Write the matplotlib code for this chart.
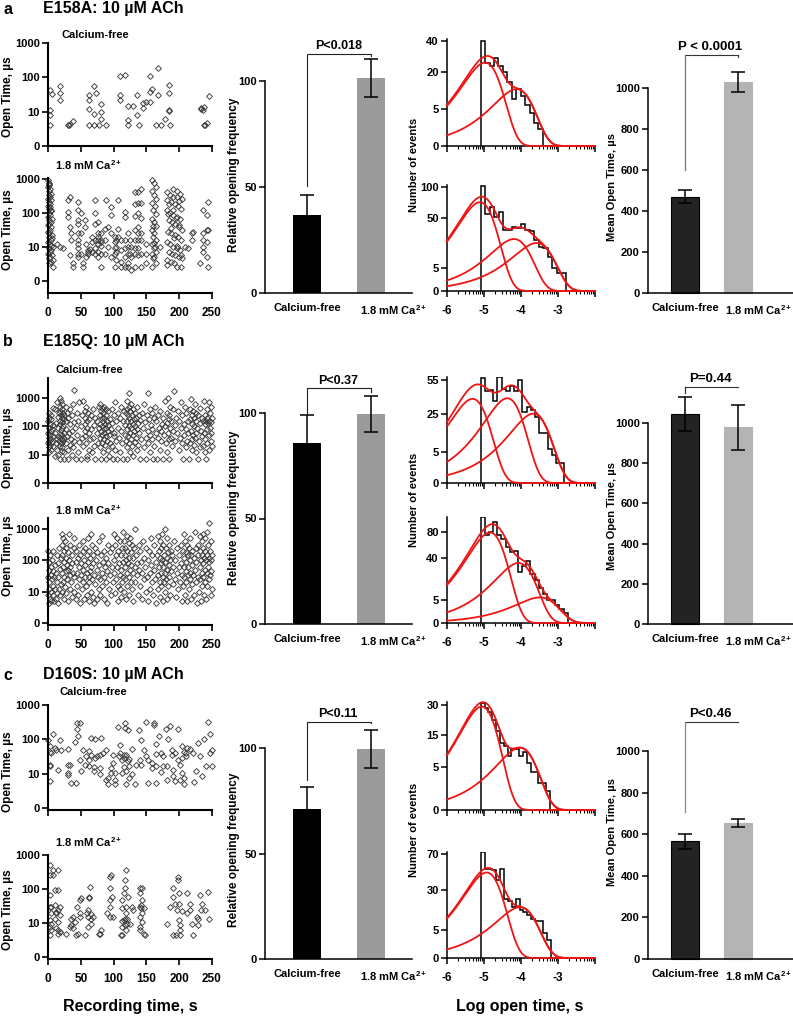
import numpy as np
import matplotlib
matplotlib.use('Agg')
import matplotlib.pyplot as plt
from matplotlib import font_manager
import matplotlib.transforms as mtransforms

# ======================= DATA =======================
row_letters = ['a', 'b', 'c']
row_titles = ['E158A: 10 µM ACh', 'E185Q: 10 µM ACh', 'D160S: 10 µM ACh']
conditions = ['Calcium-free', '1.8 mM Ca$^{2+}$']
scatter_xticks = [0, 50, 100, 150, 200, 250]
scatter_ytick_labels = ['0', '10', '100', '1000']

# scatter: [recording time (s), open time (µs)]
scat_a_free = [[2.5,42],[2.5,11],[2.5,7.8],[2.5,4],[6,32],[19,56],[19,34],[19,22.5],[30,4],[32,4.2],[34,4.4],[38,5.2],
 [62.6,30],[62.6,22.5],[62.6,12.2],[62.6,4],[69.7,56],[69.7,8.7],[69.7,4],[73.8,34],[77.9,4],[81.4,17],[81.4,9.8],[81.4,6.2],
 [89,4],[110,110],[110,31.6],[110,22.5],[117,117],[122,14.3],[122,5.6],[122,4],[129,14.3],[135,31.6],[135,7.8],[139,4],
 [145,13],[145,18],[150,19.3],[155,38],[155,18.8],[156,110],[159,47],[164,4],[167,184],[167,30],[173,4],[178,6.2],
 [184,60],[184,35.5],[184,11.5],[184,10.4],[186,4],[233,13],[233,12.2],[236,11],[238,13.7],[238,4.2],[240,4],[242,4.6],[245,29]]

scat_a_ca = [[0,890],[1,745],[2,637],[0.5,570],[3,509],[1.5,435],[4,364],[2.5,290],[0,260],[5,232],[1,208],[3.5,178],
 [0.5,155],[2,133],[4.5,119],[1,99],[3,85],[0,76],[6,68],[2,60],[4,54],[1,46],[5,39],[3,31],[0.5,28],[2,25],[6,22],
 [1.5,20],[4,16],[0,14],[3,12.6],[7,10],[1,9],[5,8],[2.5,7.2],[0,6.4],[6,5.8],[3,5.1],[1,4.6],[8,4.1],[4,3.7],[2,3.3],
 [7,2.6],[1,330],[3,150],[2,700],[5,110],[0,45],[6,18],[4,11],
 [13.7,12.6],[17.8,10],[22.9,9],[30.5,232],[30.5,105],[30.5,76],[33,290],[33,39],[33,5.8],[35.6,25],[35.6,16],[38.2,3.3],
 [38.2,2.6],[45.8,208],[45.8,119],[45.8,60],[45.8,46],[45.8,25],[45.8,16],[45.8,12.6],[45.8,9],[45.8,6.4],[45.8,5.1],
 [50.9,99],[50.9,25],[50.9,6.4],[53.4,3.3],[53.4,2.6],[56,60],[56,39],[58.5,12.6],[58.5,5.1],[61,8],[61,7.2],[61,6.4],
 [64.6,8.5],[67.7,20],[67.7,14],[67.7,7.2],[71.3,232],[71.3,99],[71.3,46],[71.3,16],[71.3,9],[71.3,6.4],
 [76.4,54],[76.4,25],[76.4,20],[76.4,16],[76.4,12.6],[76.4,7.2],[76.4,5.1],[81.4,25],[81.4,16],[81.4,14],[81.4,11],
 [81.4,6.4],[81.4,2.6],[86.5,33],[86.5,16],[86.5,6.4],[89,232],[91.6,39],[91.6,10],[96.7,150],[96.7,85],[96.7,25],
 [96.7,5.1],[101.8,20],[101.8,14],[101.8,9],[101.8,6.4],[101.8,2.6],[104.3,16],[104.3,10],[104.3,7.2],[104.3,4.1],
 [106.9,232],[106.9,33],[106.9,20],[112,16],[112,8],[112,3.7],[112,2.6],[117,105],[117,76],[117,16],[117,9],[117,5.1],
 [117,2.6],[122,25],[122,10],[122,6.4],[122,3.3],[122,2.6],[124.7,16],[124.7,6.4],[127,10],[127,5.1],[127,2.1],
 [132,400],[132,178],[132,80],[132,31],[132,16],[132,9],[132,6.4],[132,2.6],[137,400],[137,200],[137,99],[137,39],
 [137,25],[137,16],[137,9],[137,5.8],[142.5,509],[142.5,200],[142.5,70],[142.5,25],[142.5,16],[142.5,6.4],[142.5,2.6],
 [150,12.6],[150,6.4],[150,3.3],
 [158,890],[161,745],[164,570],[158,435],[162,330],[165,260],[159,200],[163,155],[160,119],[164,90],[158,68],[161,54],
 [165,42],[159,31],[162,25],[160,20],[164,16],[158,12.6],[163,10],[161,9],[165,7.2],[159,6.4],[162,5.1],[160,4.6],
 [164,3.3],[158,2.6],[162,13],[160,40],[170.5,10],
 [180.7,400],[185.8,330],[191,290],[196,435],[201,364],[203.6,260],[182,232],[188,208],[193,178],[198,155],[203,133],
 [181,119],[186,99],[191,85],[196,76],[201,68],[184,60],[189,54],[194,46],[199,39],[204,31],[183,28],[188,25],[193,22],
 [198,20],[203,16],[181,14],[186,12.6],[191,10],[196,9],[201,8],[184,7.2],[189,6.4],[194,5.8],[199,5.1],[204,4.6],
 [182,4.1],[187,3.7],[192,3.3],[197,2.6],[202,2.6],[185,180],[190,120],[195,70],[200,45],[187,35],[192,18],[197,11],
 [202,6],[180.7,3],[196,300],[200,220],[190,500],[183,90],
 [208.7,10],[213.8,9],[218.9,25],[218.9,16],[221.4,28],[231.6,3.3],[236.6,119],[236.6,25],[236.6,16],[236.6,10],
 [236.6,7.2],[241.7,85],[241.7,31],[241.7,14],[241.7,5.1],[244.3,208],[244.3,31],[244.3,2.6]]

scat_b_free = [[0,150],[0,60],[0,25],[1,200],[1,40],[1,18],[2,300],[2,90],[2,30],[2,12],[3,120],[3,50],[3,22],[4,250],
 [4,70],[4,35],[5,180],[5,15],[6,80],[6,28],[7,450],[7,45],[8,110],[8,20],[10,400],[10,9],[11,60],[12,130],[12,25],
 [13,35],[14,700],[14,15],[15,220],[15,45],[16,90],[16,10],[17,300],[17,30],[18,1000],[18,350],[18,120],[18,40],[18,7.2],
 [19,500],[19,160],[19,55],[19,20],[20,800],[20,250],[20,75],[20,25],[21,600],[21,200],[21,90],[21,35],[21,14],[22,400],
 [22,140],[22,50],[22,18],[23,300],[23,100],[23,30],[24,180],[24,60],[24,12],[25,250],[25,40],[25,7.2],[27,500],[27,80],
 [28,150],[28,25],[29,300],[29,45],[30,15],[30,7.2],[31,200],[32,60],[33,400],[33,22],[34,120],[35,35],[36,250],[36,10],
 [37,70],[38,600],[38,18],[39,140],[40,2000],[40,30],[41,90],[42,7.2],[44,300],[44,50],[46,160],[46,12],[48,700],[48,28],
 [50,100],[50,7.2],[52,250],[52,40],[54,800],[54,20],[56,350],[56,120],[56,45],[57,200],[57,70],[58,500],[58,25],[59,150],
 [59,9],[60,90],[60,7.2],[61,300],[62,60],[62,15],[63,180],[64,35],[65,250],[66,80],[67,12],[68,400],[68,40],[70,110],
 [70,20],[72,200],[72,7.2],[74,60],[75,150],[76,25],[77,500],[78,90],[79,250],[79,40],[80,600],[80,120],[80,18],[81,350],
 [81,70],[81,7.2],[82,200],[82,50],[83,450],[83,100],[83,25],[84,300],[84,150],[84,12],[85,80],[85,35],[86,500],[86,200],
 [86,60],[87,120],[87,22],[88,400],[88,45],[88,7.2],[89,250],[89,90],[90,150],[90,30],[91,70],[91,15],[92,350],[92,110],
 [93,50],[93,9],[94,180],[94,25],[96,80],[97,400],[97,20],[98,130],[99,7.2],[100,250],[100,45],[101,60],[102,700],
 [102,15],[104,150],[104,30],[105,7.2],[106,300],[107,90],[108,40],[109,200],[110,12],[111,500],[112,70],[113,25],
 [114,160],[115,7.2],[116,350],[117,50],[118,110],[119,300],[119,30],[120,800],[120,150],[120,18],[121,400],[121,80],
 [121,7.2],[122,250],[122,45],[123,1500],[123,500],[123,100],[124,200],[124,25],[125,350],[125,60],[125,12],[126,150],
 [126,35],[127,600],[127,90],[128,250],[128,20],[129,120],[129,50],[130,400],[130,9],[131,180],[131,70],[132,300],
 [132,28],[133,100],[134,200],[134,40],[135,15],[136,500],[136,80],[137,130],[137,22],[138,250],[139,60],[140,7.2],
 [141,170],[142,35],[144,300],[145,90],[146,18],[147,600],[148,140],[149,40],[150,7.2],[151,250],[152,70],[153,1500],
 [153,25],[154,180],[155,50],[156,400],[156,12],[157,110],[158,300],[158,35],[159,80],[160,7.2],[161,200],[162,20],
 [163,500],[164,60],[165,150],[166,7.2],[167,40],[168,250],[169,90],[170,15],[171,350],[172,70],[173,30],[174,120],
 [175,7.2],[176,200],[177,50],[178,800],[179,100],[180,25],[181,300],[182,130],[182,12],[183,1000],[183,60],[184,250],
 [184,35],[185,180],[185,7.2],[186,500],[186,90],[187,40],[188,150],[189,20],[190,400],[191,70],[192,1800],[193,110],
 [194,30],[195,200],[197,60],[198,350],[199,15],[200,150],[201,40],[202,700],[203,90],[204,25],[205,250],[206,7.2],
 [207,120],[208,50],[209,500],[210,80],[210,18],[211,300],[212,30],[213,150],[214,60],[215,7.2],[216,400],[216,25],
 [217,180],[218,900],[218,70],[219,250],[219,35],[220,120],[220,15],[221,350],[221,50],[222,200],[222,22],[223,100],
 [224,600],[224,40],[225,150],[225,12],[226,300],[226,60],[227,90],[228,7.2],[229,250],[230,30],[231,130],[232,450],
 [232,18],[233,70],[234,200],[235,45],[236,150],[237,20],[238,800],[238,60],[239,250],[239,12],[240,120],[240,35],
 [241,150],[241,7.2],[242,400],[242,80],[243,200],[243,25],[244,130],[245,700],[245,50],[246,150],[246,15],[247,300],
 [247,90],[248,140],[248,30],[249,500],[249,60],[250,200],[250,20]]

scat_b_ca = [[0,200],[0,30],[0,8],[1,90],[1,12],[1,4.4],[2,50],[2,20],[3,6],[3,150],[4,35],[4,10],[5,60],[5,5],[6,25],
 [6,100],[7,15],[7,45],[8,8],[8,200],[9,30],[9,5],[10,70],[10,12],[12,40],[12,6],[13,150],[14,20],[14,9],[15,80],
 [16,4.4],[16,30],[17,250],[17,12],[18,55],[19,8],[20,120],[20,18],[21,700],[21,300],[21,40],[22,150],[22,10],[23,500],
 [23,60],[23,20],[24,200],[24,6],[25,90],[25,30],[26,400],[26,14],[27,120],[27,45],[28,250],[28,9],[29,70],[29,25],
 [30,180],[30,5],[31,50],[32,700],[32,100],[33,35],[33,12],[34,300],[34,60],[35,20],[36,150],[36,7],[37,80],[38,40],
 [39,250],[39,10],[40,500],[40,30],[42,90],[42,6],[43,200],[44,40],[44,15],[45,120],[46,8],[47,300],[47,25],[48,60],
 [49,150],[49,4.4],[50,35],[51,80],[52,12],[53,400],[53,50],[54,200],[54,20],[55,100],[55,6],[56,30],[57,250],[57,70],
 [58,15],[59,150],[59,40],[60,8],[61,500],[61,90],[62,30],[62,5],[63,200],[63,20],[64,120],[64,45],[65,700],[65,10],
 [66,60],[67,300],[67,25],[68,150],[68,7],[69,80],[70,35],[70,4.4],[71,250],[72,18],[73,100],[74,50],[74,6],[75,180],
 [76,30],[77,12],[78,400],[78,70],[79,25],[80,8],[81,150],[82,40],[83,600],[83,15],[84,90],[85,30],[86,200],[86,6],
 [87,60],[88,20],[89,120],[90,45],[90,4.4],[91,300],[92,80],[93,12],[94,180],[95,35],[96,8],[97,250],[98,60],[99,20],
 [100,700],[100,100],[101,40],[102,300],[102,9],[103,150],[104,25],[105,500],[105,60],[106,15],[107,200],[107,5],
 [108,80],[109,35],[110,400],[110,12],[111,150],[112,50],[112,7],[113,250],[113,20],[114,800],[114,90],[115,30],
 [116,400],[116,10],[117,150],[117,60],[118,250],[118,25],[119,100],[119,6],[120,600],[120,40],[121,200],[121,15],
 [122,80],[123,350],[123,30],[124,120],[124,8],[125,500],[125,50],[126,180],[126,20],[127,70],[128,300],[128,12],
 [129,120],[130,40],[130,5],[131,250],[132,60],[133,1000],[133,20],[134,150],[135,35],[136,80],[137,8],[138,300],
 [139,50],[140,15],[141,200],[142,90],[143,6],[144,40],[145,400],[146,120],[147,25],[148,60],[149,10],[150,250],
 [151,30],[152,100],[153,5],[154,200],[155,40],[156,12],[157,500],[157,70],[158,20],[159,150],[160,8],[161,50],
 [162,300],[163,25],[164,90],[165,4.4],[166,150],[167,35],[168,600],[168,12],[169,200],[169,60],[170,400],[170,20],
 [171,120],[171,7],[172,250],[172,40],[173,80],[173,15],[174,700],[174,100],[175,30],[175,5],[176,300],[176,60],
 [177,150],[177,20],[178,1000],[178,90],[179,40],[179,10],[180,250],[180,25],[181,120],[181,6],[182,500],[182,50],
 [183,180],[183,15],[184,70],[185,300],[185,30],[186,100],[186,8],[187,200],[188,45],[189,150],[190,18],[191,60],
 [192,400],[193,25],[194,100],[195,7],[196,250],[197,40],[198,12],[199,150],[200,60],[201,20],[202,300],[203,80],
 [204,5],[205,35],[206,200],[206,15],[207,700],[207,60],[208,120],[208,30],[209,400],[209,8],[210,180],[210,45],
 [211,90],[211,20],[212,300],[212,5],[213,150],[213,35],[214,60],[215,250],[215,12],[216,100],[216,25],[217,500],
 [217,40],[218,150],[218,6],[219,70],[220,200],[220,18],[221,35],[222,120],[223,8],[224,800],[224,50],[225,250],
 [225,20],[226,90],[227,4.4],[228,300],[228,30],[229,150],[230,10],[231,600],[231,60],[232,200],[232,25],[233,100],
 [233,5],[234,400],[234,40],[235,150],[235,15],[236,700],[236,80],[237,250],[237,30],[238,120],[238,8],[239,500],
 [239,50],[240,200],[240,20],[241,100],[241,6],[242,800],[242,40],[243,150],[243,15],[244,300],[244,60],[245,120],
 [245,25],[246,1500],[246,90],[247,200],[247,35],[248,100],[248,8],[249,400],[249,45],[250,150],[250,12]]

scat_c_free = [[0,97],[2.5,62],[2.5,44],[2.5,16.2],[2.5,18],[2.5,5.9],[5.1,40],[7.6,141],[10.2,55],[12.7,49],[15.3,13],
 [17.8,97],[19.3,49],[30.5,52],[30.5,18],[30.5,10.4],[30.5,9.3],[33,18],[35.6,5.3],[40.7,81],[42.2,5.3],[44.3,197],
 [44.3,294],[45.8,126],[48.4,294],[48.4,25],[49.9,11.6],[53.4,49],[56,18],[57.5,32],[62.6,46],[62.6,25],[62.6,17],
 [66.2,108],[66.2,35],[70.2,15.5],[70.2,11.6],[71.3,101],[71.3,28],[74.8,32],[78.9,9.5],[78.9,14.5],[78.9,35],
 [81.4,108],[84,40],[88,49],[88,6.6],[91.6,7.4],[91.6,5.0],[95.7,10.4],[95.7,14.5],[99.3,20],[99.3,35],[101.8,10.4],
 [101.8,5.0],[101.8,6.6],[106.9,225],[108.4,32],[110.5,40],[110.5,69],[113.5,10.4],[113.5,25],[115.5,15.5],[115.5,28],
 [115.5,35],[117.6,294],[117.6,211],[118.6,35],[118.6,11.6],[118.6,5.0],[122.2,23.7],[122.2,188],[123.7,26.5],
 [123.7,16.2],[123.7,7.4],[128.8,52],[128.8,9.7],[132.3,5.0],[134.9,18],[139,188],[140,25],[142.5,97],[142.5,18],
 [146,49],[150,329],[150,33],[152.7,5.3],[152.7,25],[157.8,20],[157.8,14.5],[161.4,294],[161.4,263],[164.4,72],
 [164.4,37],[164.4,16.2],[164.4,5.3],[169.5,121],[173,40],[173,10.9],[175.6,16.2],[175.6,32],[179.2,197],[180.7,16.2],
 [180.7,6.6],[183.2,101],[185.8,246],[188.3,49],[188.3,35],[190.9,13],[190.9,8.3],[193.4,40],[193.4,6.2],[198.5,197],
 [198.5,25],[201,6.6],[201,18],[203.6,62],[203.6,28],[203.6,10.4],[207.2,44],[207.2,5.0],[207.2,7.4],[210.2,32],
 [210.2,40],[212.3,55],[216.3,53],[220.4,40],[223,5.6],[225.5,11.6],[229,77],[231.6,32],[234.1,8.3],[237.7,101],
 [240.8,16.2],[244.3,329],[246.9,40],[246.9,141],[249.4,16.2],[250,49]]

scat_c_ca = [[2.5,506],[2.5,257],[2.5,66],[2.5,30],[2.5,12],[2.5,7.7],[2.5,4.4],[5.1,30],[5.1,19],[5.1,9.2],[5.1,6.1],
 [7.6,257],[7.6,360],[10.2,93],[10.2,33],[10.2,13.5],[12.7,19],[12.7,21],[12.7,6.9],[15.3,360],[15.3,93],[15.3,24],
 [15.3,4.9],[15.3,6.1],[15.3,10.8],[17.8,30],[17.8,17],[17.8,5.5],[18.5,5.5],[28,4.9],[33,7.7],[35.6,8.6],[35.6,13.5],
 [38.2,15],[38.2,7.3],[40.7,10.8],[43.3,4.4],[44.8,29],[45.8,4.9],[48.4,47],[48.4,15],[48.4,19],[50.9,53],[56,4.4],
 [59.6,19],[61,7.7],[61,15],[61,24],[62.6,59],[62.6,53],[64.6,116],[66.2,13.5],[66.2,18],[66.2,9.6],[68.7,15],
 [77.9,4.7],[78.9,4.7],[81.4,6.1],[90,19],[94.2,229],[94.2,104],[94.2,47],[94.2,30],[94.2,15],[96.7,257],[97.7,59],
 [99.3,15],[112,4.4],[113,4.4],[113.5,27],[113.5,47],[113.5,11.3],[113.5,7.7],[115.5,12],[115.5,74],[117,183],[117,104],
 [117,13.5],[117,8.6],[118.6,360],[118.6,30],[118.6,19],[118.6,6.1],[120.6,13.5],[120.6,9.6],[122.2,59],[124.7,9.6],
 [127.3,30],[129.8,24],[140,104],[140,74],[140,30],[140,15],[140,7.7],[140,6.1],[142.5,33],[142.5,27],[144,104],[144,47],
 [144,19],[144,10.8],[146,27],[146,4.6],[147.6,4.4],[180.7,9.6],[185.8,30],[190.9,104],[190.9,59],[190.9,4.4],
 [193.4,37],[194.9,4.4],[196,24],[197.5,229],[197.5,183],[199.5,37],[199.5,74],[199.5,12],[201,4.4],[201,6.1],[201,8.6],
 [203.6,23],[211.2,74],[212.3,19],[216.3,37],[216.3,24],[218.9,9.6],[221.4,4.4],[226.5,15],[229,13.5],[229,8.6],
 [231.6,66],[233.1,24],[234.1,37],[239.2,24],[244.3,83],[245.8,13.5]]

# relative opening frequency (mean, s.e.m.) [Calcium-free, 1.8 mM Ca]
freq_means = [[37, 101.5], [86, 99.5], [71, 99.5]]
freq_errs = [[9, 9], [13, 8.5], [10.5, 9]]
freq_pvals = ['P<0.018', 'P<0.37', 'P<0.11']
# mean open time (µs)
mot_means = [[470, 1029], [1045, 980], [565, 655]]
mot_errs = [[30, 50], [85, 112], [38, 18]]
mot_pvals = ['P < 0.0001', 'P=0.44', 'P<0.46']

# dwell-time histograms (log10 open time, s): counts per bin
hist_start = -5.09
hist_a_free = [40, 25, 23, 28, 23, 20, 15, 8, 12, 9, 6, 4, 2, 1]
hist_a_ca = [103, 55, 65, 51, 58, 35, 34, 38, 37, 42, 34, 33, 24, 18, 17, 11, 5, 3, 3]
hist_b_free = [57, 44, 45, 35, 59, 46, 44, 49, 44, 55, 26, 30, 28, 23, 13, 13, 6, 4, 2, 2]
hist_b_ca = [108, 75, 79, 98, 74, 68, 55, 49, 50, 25, 31, 37, 23, 18, 12, 8, 5, 5, 3, 2, 1]
hist_c_free = [31, 28, 26, 22, 17, 12, 11, 8, 10, 10, 8, 9, 6, 4, 4, 2, 2, 1]
hist_c_ca = [73, 51, 51, 50, 40, 51, 23, 21, 17, 23, 15, 14, 12, 10, 9, 9, 4, 2]
hist_bin_widths = [[0.12, 0.121], [0.113, 0.112], [0.104, 0.105]]
# fitted exponential components: (log10 tau [s], peak count)
fit_a_free = [(-4.97, 25.3), (-4.12, 11.8)]
fit_a_ca = [(-5.11, 73), (-4.19, 25), (-3.58, 21.3)]
fit_b_free = [(-5.31, 36.9), (-4.37, 37.4), (-3.67, 25)]
fit_b_ca = [(-4.84, 78.8), (-4.07, 34.6), (-3.49, 6.3)]
fit_c_free = [(-5.06, 28.9), (-4.03, 10.5)]
fit_c_ca = [(-4.93, 47.5), (-4.03, 16.8)]
hist_yticks = [[[0, 5, 20, 40], [0, 5, 50, 100]], [[0, 5, 25, 55], [0, 5, 40, 80]], [[0, 5, 15, 30], [0, 5, 30, 70]]]
hist_xtick_labels = ['-6', '-5', '-4', '-3', '']

scat_data = [[scat_a_free, scat_a_ca], [scat_b_free, scat_b_ca], [scat_c_free, scat_c_ca]]
hist_data = [[hist_a_free, hist_a_ca], [hist_b_free, hist_b_ca], [hist_c_free, hist_c_ca]]
fit_data = [[fit_a_free, fit_a_ca], [fit_b_free, fit_b_ca], [fit_c_free, fit_c_ca]]

# ======================= STYLE =======================
names = {f.name for f in font_manager.fontManager.ttflist}
FAM = 'Liberation Sans Narrow' if 'Liberation Sans Narrow' in names else 'Liberation Sans'
plt.rcParams['font.family'] = [FAM, 'DejaVu Sans']
plt.rcParams['font.weight'] = 'bold'
plt.rcParams['mathtext.fontset'] = 'custom'
plt.rcParams['mathtext.rm'] = FAM + ':bold'
plt.rcParams['mathtext.bf'] = FAM + ':bold'
plt.rcParams['mathtext.it'] = FAM + ':bold'
plt.rcParams['mathtext.default'] = 'bf'

W, H = 793, 1016
fig = plt.figure(figsize=(W / 100, H / 100), dpi=100)


def add_ax(l, t, r, b):
    return fig.add_axes([l / W, 1 - b / H, (r - l) / W, (b - t) / H])


def ftext(x, y, s, **kw):
    return fig.text(x / W, 1 - y / H, s, **kw)


def clean(ax, lw):
    for s in ['top', 'right']:
        ax.spines[s].set_visible(False)
    for s in ['left', 'bottom']:
        ax.spines[s].set_linewidth(lw)


# ---- layout (pixels) ----
title_y = [9, 341, 675]
scatter_layout = [[(43, 146, 0, 3.0), (178, 293, -0.35, 3.02)],
                  [(378, 483, 0, 3.71), (518, 625, -0.06, 3.35)],
                  [(705, 810, -0.06, 3.0), (855, 959, -0.06, 3.0)]]
scatter_label_pos = [[(62, 35), (55, 165)], [(55, 370), (55, 510)], [(60, 692), (55, 842)]]
scatter_ylabel_y = [[97, 230], [448, 556], [772, 910]]
freq_layout = [(81, 293), (413, 624), (748, 959)]
freq_ylabel_y = [175, 508, 850]
freq_bracket = [(112.7, 50.5, 111.8), (111.8, 99.5, 110.0), (112.3, 84.8, 111.8)]
mot_layout = [(88, 293), (423, 624), (751, 959)]
mot_ylabel_y = [187, 516, 832]
mot_bracket = [(1161, 600, 1150), (1179, 1149, None), (1139, 707, None)]
mot_bracket_color = ['#777777', '#333333', '#888888']
hist_layout = [[(39, 146, 41.6), (185, 291, 104)],
               [(377, 483, 58.5), (517, 623, 108)],
               [(702, 810, 31.5), (852, 958, 73)]]
hist_ylabel_y = [165, 500, 830]

FS_TICK = 8
FS_LAB = 8.5

sqrt_fwd = lambda v: np.sqrt(np.maximum(v, 0))
sqrt_inv = lambda v: np.square(v)

for r in range(3):
    ftext(3, title_y[r], row_letters[r], fontsize=11.5, ha='left', va='center')
    ftext(43, title_y[r], row_titles[r], fontsize=11.5, ha='left', va='center')

    # ---------- scatter ----------
    for k in range(2):
        top, bot, y0, y1 = scatter_layout[r][k]
        ax = add_ax(48, top, 212, bot)
        d = np.array(scat_data[r][k], dtype=float)
        ax.plot(d[:, 0], np.log10(d[:, 1]), ls='none', marker='D', ms=3.0, mfc='none',
                mec='#3c3c3c', mew=0.65, clip_on=False)
        ax.set_xlim(0, 250)
        ax.set_ylim(y0, y1)
        clean(ax, 1.5)
        ax.set_xticks(scatter_xticks)
        ax.set_yticks([0, 1, 2, 3])
        ax.set_yticklabels(scatter_ytick_labels)
        if k == 0:
            ax.set_xticklabels([])
        ax.tick_params(direction='out', length=4, width=1.2, labelsize=FS_TICK, pad=2)
        ax.tick_params(axis='x', pad=6, labelsize=8.5)
        lx, ly = scatter_label_pos[r][k]
        ftext(lx, ly, conditions[k], fontsize=8, ha='left', va='center')
        ftext(8, scatter_ylabel_y[r][k], 'Open Time, µs', fontsize=FS_LAB, rotation=90,
              ha='center', va='center')

    # ---------- relative opening frequency ----------
    y100, y0p = freq_layout[r]
    ax = add_ax(265, y100, 412, y0p)
    ax.set_xlim(-0.66, 1.65)
    ax.set_ylim(0, 100)
    ax.bar([0, 1], freq_means[r], width=0.44, color=['black', '#9b9b9b'], clip_on=False)
    eb = ax.errorbar([0, 1], freq_means[r], yerr=freq_errs[r], fmt='none', ecolor='black',
                     elinewidth=1.1, capsize=5, capthick=1.1)
    for c in eb.get_children():
        c.set_clip_on(False)
    yb, yl, yr = freq_bracket[r]
    ax.plot([0, 0, 1, 1], [yl, yb, yb, yr], color='#222222', lw=0.8, clip_on=False)
    ax.text(0.49, yb + 3.6, freq_pvals[r], fontsize=9, ha='center', va='center')
    clean(ax, 1.1)
    ax.spines['left'].set_bounds(0, 100)
    ax.set_yticks([0, 50, 100])
    ax.set_xticks([0, 1])
    ax.set_xticklabels(conditions)
    ax.tick_params(axis='y', direction='out', length=4, width=1.1, labelsize=FS_TICK, pad=2)
    ax.tick_params(axis='x', length=0, labelsize=8, pad=7)
    lab = ax.get_xticklabels()[1]
    lab.set_ha('left')
    lab.set_transform(lab.get_transform() + mtransforms.ScaledTranslation(-11 / 100, 0, fig.dpi_scale_trans))
    ftext(234, freq_ylabel_y[r], 'Relative opening frequency', fontsize=FS_LAB, rotation=90,
          ha='center', va='center')

    # ---------- histograms ----------
    for k in range(2):
        top, bot, ytop = hist_layout[r][k]
        ax = add_ax(447, top, 595, bot)
        ax.set_yscale('function', functions=(sqrt_fwd, sqrt_inv))
        ax.set_xlim(-6, -2)
        ax.set_ylim(0, ytop)
        counts = hist_data[r][k]
        edges = hist_start + hist_bin_widths[r][k] * np.arange(len(counts) + 1)
        ax.stairs(counts, edges, baseline=0, color='black', lw=1.1, zorder=2)
        xs = np.linspace(-6, -2, 600)
        total = np.zeros_like(xs)
        for lt, amp in fit_data[r][k]:
            u = np.log(10) * (xs - lt)
            comp = amp * np.exp(1 + u - np.exp(u))
            total += comp
            ax.plot(xs, comp, color='#f01414', lw=1.3, zorder=3, clip_on=False)
        ax.plot(xs, total, color='#f01414', lw=1.3, zorder=3, clip_on=False)
        clean(ax, 1.1)
        ax.set_yticks(hist_yticks[r][k])
        ax.set_yticklabels([str(v) for v in hist_yticks[r][k]])
        ax.set_xticks([-6, -5, -4, -3, -2])
        ax.set_xticks([d + np.log10(m) for d in range(-6, -2) for m in range(2, 10)], minor=True)
        if k == 1:
            ax.set_xticklabels(hist_xtick_labels)
        else:
            ax.set_xticklabels([])
        ax.tick_params(which='major', direction='out', length=4, width=1.1, labelsize=FS_TICK, pad=2)
        ax.tick_params(axis='x', which='major', pad=6, labelsize=8.5)
        ax.tick_params(which='minor', direction='out', length=2, width=0.8)
    ftext(414, hist_ylabel_y[r], 'Number of events', fontsize=8, rotation=90, ha='center', va='center')

    # ---------- mean open time ----------
    y1000, y0m = mot_layout[r]
    ax = add_ax(648, y1000, 793, y0m)
    ax.set_xlim(-0.70, 2.04)
    ax.set_ylim(0, 1000)
    ax.bar([0, 1], mot_means[r], width=0.53, color=['#232323', '#b4b4b4'],
           edgecolor=['black', '#b4b4b4'], lw=0.8, clip_on=False)
    eb = ax.errorbar([0, 1], mot_means[r], yerr=mot_errs[r], fmt='none', ecolor='black',
                     elinewidth=1.1, capsize=5, capthick=1.1)
    for c in eb.get_children():
        c.set_clip_on(False)
    yb, yl, yr = mot_bracket[r]
    ax.plot([0, 1], [yb, yb], color='#333333', lw=0.8, clip_on=False)
    ax.plot([0, 0], [yl, yb], color=mot_bracket_color[r], lw=0.9, clip_on=False)
    if yr is not None:
        ax.plot([1, 1], [yr, yb], color='#333333', lw=0.8, clip_on=False)
    ax.text(0.48, yb + 40, mot_pvals[r], fontsize=9.5, ha='center', va='center')
    clean(ax, 1.1)
    ax.spines['left'].set_bounds(0, 1000)
    ax.set_yticks([0, 200, 400, 600, 800, 1000])
    ax.set_xticks([0, 1])
    ax.set_xticklabels(conditions)
    ax.tick_params(axis='y', direction='out', length=4, width=1.1, labelsize=FS_TICK, pad=2)
    ax.tick_params(axis='x', length=0, labelsize=8, pad=7)
    lab = ax.get_xticklabels()[1]
    lab.set_ha('left')
    lab.set_transform(lab.get_transform() + mtransforms.ScaledTranslation(-13 / 100, 0, fig.dpi_scale_trans))
    ftext(612, mot_ylabel_y[r], 'Mean Open Time, µs', fontsize=8, rotation=90, ha='center', va='center')

ftext(130, 1006, 'Recording time, s', fontsize=11.5, ha='center', va='center')
ftext(520, 1006, 'Log open time, s', fontsize=11.5, ha='center', va='center')

fig.savefig('out.png', dpi=100)
